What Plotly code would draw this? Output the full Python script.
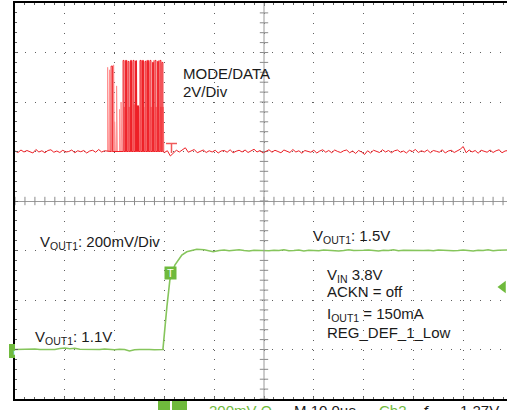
import numpy as np
import plotly.graph_objects as go

# scope settings: 10 us/div, ch1 (MODE/DATA) 2 V/div, ch2 (VOUT1) 200 mV/div
t_per_div = 10.0
ch1_v_per_div = 2.0
ch1_offset = 1.0
ch2_v_per_div = 0.2
ch2_ref = 1.1
ch2_offset = -3.0

# MODE/DATA baseline noise (V), sampled every 0.6 us
red_pre_v = [0.02, -0.04, 0.06, -0.02, 0.04, 0.0, -0.06, 0.08, -0.02, 0.03, -0.05,
             0.04, 0.07, -0.03, 0.02, -0.04, 0.05, -0.02, 0.0, 0.06, -0.05, 0.03,
             -0.01, 0.04, -0.06, 0.02, 0.05, -0.03, 0.08, -0.02, 0.03]
red_post_v = [-0.04, 0.03, -0.18, -0.06, 0.05, -0.02, 0.06, 0.15, -0.03, 0.04,
              0.08, -0.05, 0.02, 0.06, -0.04, 0.03, -0.02, 0.05, -0.06, 0.02,
              0.04, -0.03, 0.07, -0.05, 0.01, 0.05, -0.02, 0.06, -0.04, 0.03,
              0.09, -0.02, 0.04, -0.06, 0.02, 0.07, -0.03, 0.05, 0.0, -0.05,
              0.06, 0.02, -0.04, 0.08, -0.02, 0.03, -0.07, 0.04, 0.01, -0.03,
              0.05, -0.06, 0.02, 0.07, -0.03, 0.04, -0.05, 0.06, 0.0, -0.04,
              0.03, 0.06, -0.05, 0.02, -0.08, 0.04, -0.02, -0.12, 0.03, -0.06,
              0.05, 0.01, -0.04, 0.07, -0.02, 0.04, -0.05, 0.03, 0.06, -0.03,
              0.02, -0.06, 0.05, 0.0, 0.08, -0.04, 0.03, -0.02, 0.06, -0.05,
              0.04, 0.01, -0.03, 0.07, -0.06, 0.02, 0.05, -0.04, 0.03, 0.09,
              0.2, -0.05, 0.06, -0.02, 0.04, -0.07, 0.05, 0.01, -0.03, 0.06,
              -0.04, 0.03, 0.07, -0.05, 0.02, 0.04]
red_pre_start = 0.0
red_post_start = 30.0
red_step = 0.6

# data burst pulses (start us, width us, top V)
pulse_start = [19.3, 21.7, 22.2, 22.7, 23.2, 23.7, 24.2, 24.6, 25.1, 25.6, 26.1,
               26.6, 27.1, 27.6, 28.1, 28.6, 29.1, 29.5]
pulse_width = [0.3, 0.2, 0.2, 0.2, 0.2, 0.2, 0.2, 0.2, 0.2, 0.2, 0.2,
               0.2, 0.2, 0.2, 0.2, 0.2, 0.2, 0.2]
pulse_top = [3.45, 3.68, 3.68, 3.64, 3.68, 3.68, 3.66, 1.85, 3.68, 3.68, 3.64,
             3.68, 3.68, 3.6, 3.68, 3.64, 3.68, 3.6]
# persistence (lighter) pulses
ghost_start = [18.6, 19.0, 19.8, 20.0, 20.4, 21.0, 21.3, 21.95, 22.45, 22.95, 23.45,
               23.95, 24.4, 24.85, 25.35, 25.85, 26.35, 26.85, 27.35, 27.85, 28.35,
               28.85, 29.3, 29.75]
ghost_top = [3.4, 3.3, 3.5, 1.2, 2.65, 1.7, 2.0, 1.8, 3.68, 1.8, 3.6, 1.9, 3.68,
             1.8, 3.68, 1.8, 3.68, 3.6, 1.8, 3.68, 1.8, 3.68, 1.8, 1.8]
ghost_width = 0.15

# VOUT1 (V), flat parts sampled every 1 us
green_low_v = [1.100, 1.101, 1.099, 1.100, 1.102, 1.100, 1.099, 1.101, 1.100, 1.104,
               1.106, 1.103, 1.105, 1.101, 1.100, 1.101, 1.099, 1.100, 1.102, 1.100,
               1.099, 1.101, 1.100, 1.094, 1.099, 1.100, 1.101, 1.100, 1.099, 1.100]
green_rise_t = [29.7, 30.5, 31.1, 32.1, 33.5, 34.5, 36.5, 38.0, 39.8]
green_rise_v = [1.10, 1.272, 1.381, 1.441, 1.482, 1.495, 1.505, 1.503, 1.495]
green_high_v = [1.500, 1.502, 1.499, 1.501, 1.503, 1.500, 1.498, 1.501, 1.500, 1.502,
                1.499, 1.501, 1.500, 1.503, 1.499, 1.500, 1.502, 1.498, 1.501, 1.500,
                1.499, 1.502, 1.500, 1.501, 1.498, 1.500, 1.503, 1.500, 1.499, 1.501,
                1.502, 1.500, 1.498, 1.501, 1.500, 1.503, 1.499, 1.501, 1.500, 1.502,
                1.498, 1.500, 1.501, 1.499, 1.502, 1.500, 1.501, 1.499, 1.500, 1.502,
                1.500, 1.498, 1.501, 1.500, 1.503, 1.499, 1.501, 1.500, 1.502]
green_high_start = 41.0

RED = "#ee1f26"
PINK = "#ff8f8f"
GREEN = "#86c55c"
GREEN_DARK = "#6fba3c"


def px2x(px):
    return (px - 15) / 49.8


def px2y(py):
    return 4 - (py - 3) / 49.5


def ch1(v):
    return [ch1_offset + a / ch1_v_per_div for a in v]


def ch2(v):
    return [ch2_offset + (a - ch2_ref) / ch2_v_per_div for a in v]


# build ch1 waveform
red_t, red_v = [], []
for i, v in enumerate(red_pre_v):
    red_t.append(red_pre_start + i * red_step)
    red_v.append(v)
for s, w, h in zip(pulse_start, pulse_width, pulse_top):
    red_t += [s, s, s + w, s + w]
    red_v += [0.0, h, h, 0.0]
for i, v in enumerate(red_post_v):
    red_t.append(red_post_start + i * red_step)
    red_v.append(v)

ghost_t, ghost_v = [], []
for s, h in zip(ghost_start, ghost_top):
    ghost_t += [s, s, s + ghost_width, s + ghost_width]
    ghost_v += [0.0, h, h, 0.0]

green_t = list(np.arange(len(green_low_v)) * 1.0) + green_rise_t + \
    list(green_high_start + np.arange(len(green_high_v)) * 1.0)
green_v = green_low_v + green_rise_v + green_high_v

fig = go.Figure()

# center graticule ticks
minor = np.arange(-4, 4.001, 0.2)
minor_x = np.arange(0, 10.001, 0.2)
fig.add_trace(go.Scatter(x=[5] * len(minor), y=minor, mode="markers",
                         marker=dict(symbol="line-ew", size=6, line=dict(color="#8a8a8a", width=1)),
                         hoverinfo="skip"))
fig.add_trace(go.Scatter(x=minor_x, y=[0] * len(minor_x), mode="markers",
                         marker=dict(symbol="line-ns", size=6, line=dict(color="#8a8a8a", width=1)),
                         hoverinfo="skip"))

fig.add_trace(go.Scatter(x=[t / t_per_div for t in ghost_t], y=ch1(ghost_v), mode="lines",
                         line=dict(color=PINK, width=1)))
fig.add_trace(go.Scatter(x=[t / t_per_div for t in red_t], y=ch1(red_v), mode="lines",
                         line=dict(color=RED, width=1)))
fig.add_trace(go.Scatter(x=[t / t_per_div for t in green_t], y=ch2(green_v), mode="lines",
                         line=dict(color=GREEN, width=1.6)))

# channel / trigger markers
fig.add_trace(go.Scatter(x=[px2x(11)], y=[ch1_offset], mode="markers", cliponaxis=False,
                         marker=dict(symbol="triangle-right", size=7, color=RED)))
fig.add_trace(go.Scatter(x=[px2x(503)], y=[px2y(287)], mode="markers", cliponaxis=False,
                         marker=dict(symbol="triangle-left", size=11, color=GREEN_DARK)))

shapes = [
    dict(type="line", xref="x", yref="y", x0=5, x1=5, y0=-4, y1=4,
         line=dict(color="#9a9a9a", width=1)),
    dict(type="line", xref="x", yref="y", x0=px2x(166), x1=px2x(177), y0=px2y(143.5), y1=px2y(143.5),
         line=dict(color="#f05a5a", width=1.5)),
    dict(type="line", xref="x", yref="y", x0=px2x(171.5), x1=px2x(171.5), y0=px2y(143.5), y1=px2y(153),
         line=dict(color="#f05a5a", width=1.5)),
    dict(type="rect", xref="paper", yref="y", x0=(9 - 15) / 492, x1=(15 - 15) / 492,
         y0=px2y(358), y1=px2y(344), fillcolor=GREEN_DARK, line=dict(width=0)),
    dict(type="rect", xref="paper", yref="paper", x0=(158 - 15) / 492, x1=(170 - 15) / 492,
         y0=-(412 - 399) / 396, y1=-(401 - 399) / 396, fillcolor=GREEN_DARK, line=dict(width=0)),
    dict(type="rect", xref="paper", yref="paper", x0=(172 - 15) / 492, x1=(187 - 15) / 492,
         y0=-(412 - 399) / 396, y1=-(401 - 399) / 396, fillcolor=GREEN_DARK, line=dict(width=0)),
]

FONT = dict(family="Liberation Sans, Arial, sans-serif", size=15, color="#1a1a1a")


def label(text, px, py, color=None):
    f = dict(FONT)
    if color:
        f["color"] = color
    return dict(text=text, x=px2x(px), y=px2y(py), xref="x", yref="y", xanchor="left",
                yanchor="middle", showarrow=False, font=f)


annotations = [
    label("MODE/DATA", 181, 73),
    label("2V/Div", 181, 91),
    label("V<sub>OUT1</sub>: 200mV/Div", 38, 242),
    label("V<sub>OUT1</sub>: 1.1V", 33, 337),
    label("V<sub>OUT1</sub>: 1.5V", 311, 236),
    label("V<sub>IN</sub> 3.8V", 325, 275),
    label("ACKN = off", 325, 291),
    label("I<sub>OUT1</sub> = 150mA", 325, 314),
    label("REG_DEF_1_Low", 325, 332),
    dict(text="T", x=px2x(170.5), y=px2y(272.5), xref="x", yref="y", showarrow=False,
         bgcolor=GREEN_DARK, width=11, height=12, borderpad=0,
         font=dict(family="Liberation Sans", size=11, color="white")),
    dict(text="▸", x=-6 / 492 * 0.5, y=px2y(351), xref="paper", yref="y", showarrow=False,
         font=dict(size=9, color="white")),
]
for text, px, col in [("200mV Ω", 207, GREEN_DARK), ("M 10.0µs", 292, "#1a1a1a"),
                      ("Ch2", 377, GREEN_DARK), ("ƒ", 420, "#1a1a1a"), ("1.27V", 458, "#1a1a1a")]:
    annotations.append(dict(text=text, x=(px - 15) / 492, y=-(400 - 399) / 396, xref="paper",
                            yref="paper", xanchor="left", yanchor="top", showarrow=False,
                            font=dict(family="Liberation Sans", size=15, color=col)))

fig.update_layout(
    width=507, height=410,
    margin=dict(l=15, r=0, t=3, b=11),
    paper_bgcolor="white", plot_bgcolor="white",
    showlegend=False,
    shapes=shapes,
    annotations=annotations,
    xaxis=dict(range=[0, 492 / 49.8], dtick=1, tick0=0, showticklabels=False,
               showgrid=True, gridcolor="#606060", griddash="1px,8.9px", gridwidth=1,
               zeroline=False, showline=True, linecolor="black", linewidth=1.5,
               mirror="allticks", ticks="inside", ticklen=3, tickcolor="#606060",
               minor=dict(dtick=0.2, ticks="inside", ticklen=2, tickcolor="#606060")),
    yaxis=dict(range=[-4, 4], dtick=1, tick0=0, showticklabels=False,
               showgrid=True, gridcolor="#606060", griddash="1px,8.9px", gridwidth=1,
               zeroline=True, zerolinecolor="#9a9a9a", zerolinewidth=1,
               showline=True, linecolor="black", linewidth=1.5,
               ticks="inside", ticklen=3, tickcolor="#606060",
               minor=dict(dtick=0.2, ticks="inside", ticklen=2, tickcolor="#606060")),
)

fig.write_html("out.html", config={"displayModeBar": False},
               post_script="document.body.style.margin='0';")
